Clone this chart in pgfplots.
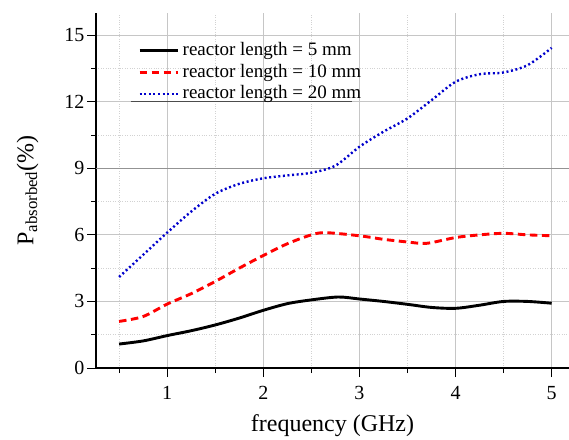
\documentclass[border=0pt]{standalone}
\usepackage{pgfplots}
\pgfplotsset{compat=1.18}
\usepackage{fontspec}
\setmainfont{Liberation Serif}
\begin{document}
\begin{tikzpicture}
\begin{axis}[name=ax,
  scale only axis, width=473pt, height=355pt,
  xmin=0.26, xmax=5.18, ymin=0, ymax=16,
  axis x line*=bottom, axis y line*=left,
  axis line style={line width=1.4pt,-},
  xtick={1,2,3,4,5}, ytick={0,3,6,9,12,15},
  minor xtick={0.5,1.5,2.5,3.5,4.5}, minor ytick={1.5,4.5,7.5,10.5,13.5},
  tick align=outside, major tick length=9pt, minor tick length=5pt,
  tick style={black, line width=1pt},
  grid=both,
  major grid style={gray!45, line width=0.8pt},
  minor grid style={gray!35, dotted, line width=0.8pt},
  tick label style={font=\fontsize{20}{22}\selectfont},
  /pgf/number format/assume math mode=true,
  xticklabel style={yshift=-6pt},
  yticklabel style={xshift=1pt},
  xlabel={frequency (GHz)}, ylabel={P\textsubscript{absorbed}(\%)},
  label style={font=\fontsize{24}{26}\selectfont},
  xlabel style={yshift=-8pt},
  ylabel style={yshift=19pt},
  legend style={at={(axis cs:0.697,14.71)}, anchor=north west, draw=none, fill=none,
    font=\fontsize{19}{21}\selectfont, row sep=3.7pt, column sep=0pt,
    inner sep=0pt, nodes={inner ysep=0pt, inner xsep=3.5pt, text height=13.5pt, text depth=4.5pt}},
  legend cell align=left,
  legend image code/.code={\draw[#1] (-0.1pt,0pt) -- (38pt,0pt);},
]
\draw[black!70, line width=0.9pt] (axis cs:0.62,12) -- (axis cs:2.92,12);
\draw[gray!85, line width=0.8pt] (axis cs:0.26,9) -- (axis cs:5.18,9);
\addplot[black, line width=2.9pt, smooth] coordinates {
(0.5,1.08) (0.75,1.22) (1,1.46) (1.25,1.68) (1.5,1.94) (1.75,2.25) (2,2.6) (2.25,2.9)
(2.5,3.07) (2.78,3.2) (3,3.11) (3.25,3.0) (3.5,2.87) (3.75,2.73) (4,2.69) (4.25,2.83)
(4.5,3.0) (4.75,3.0) (5,2.92)};
\addlegendentry{reactor length = 5 mm}
\addplot[red, line width=2.9pt, dash pattern=on 7.5pt off 4.5pt, smooth] coordinates {
(0.5,2.1) (0.75,2.32) (1,2.88) (1.25,3.35) (1.5,3.9) (1.75,4.5) (2,5.07) (2.25,5.6)
(2.5,6.0) (2.65,6.1) (3,5.96) (3.25,5.8) (3.5,5.68) (3.7,5.62) (4,5.88) (4.25,6.0)
(4.5,6.07) (4.75,6.0) (5,5.96)};
\addlegendentry{reactor length = 10 mm}
\addplot[blue!80!black, line width=2.4pt, dash pattern=on 2pt off 2.6pt, smooth] coordinates {
(0.5,4.1) (0.75,5.1) (1,6.1) (1.25,7.05) (1.5,7.85) (1.75,8.3) (2,8.55) (2.25,8.68)
(2.5,8.8) (2.75,9.12) (3,9.97) (3.25,10.65) (3.5,11.25) (3.75,12.07) (4,12.9) (4.25,13.24)
(4.5,13.32) (4.75,13.65) (5,14.43)};
\addlegendentry{reactor length = 20 mm}
\end{axis}
\pgfresetboundingbox
\path ([shift={(-96pt,-71pt)}]ax.south west) rectangle ([shift={(0pt,13pt)}]ax.north east);
\end{tikzpicture}
\end{document}
